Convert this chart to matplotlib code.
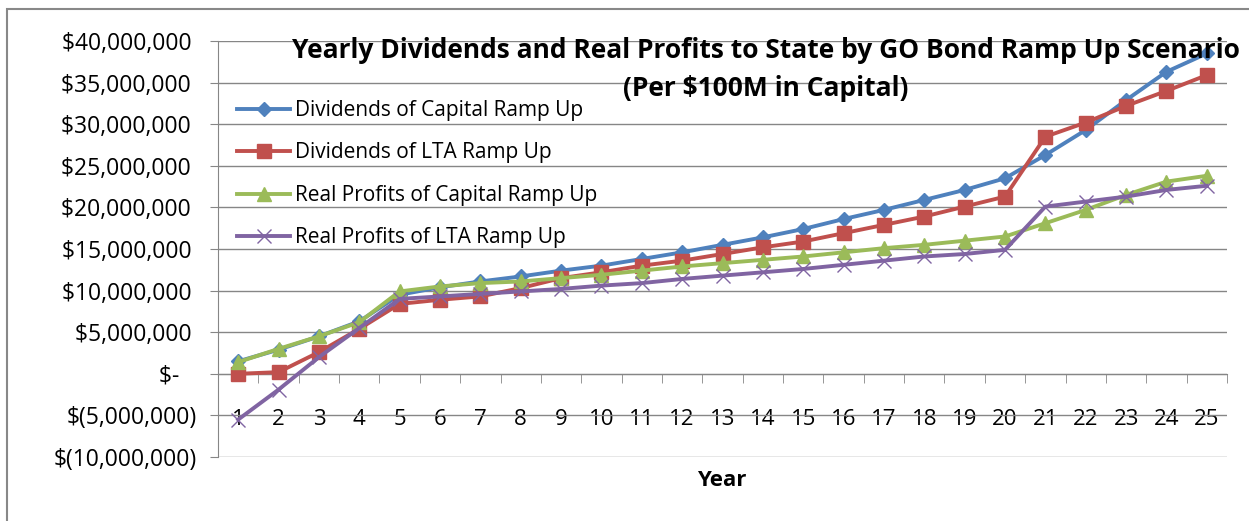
import numpy as np
import matplotlib.pyplot as plt
from matplotlib.ticker import FuncFormatter
from matplotlib.patches import Rectangle

plt.rcParams['font.family'] = ['Open Sans', 'DejaVu Sans']

years = np.arange(1, 26)

# values in dollars
div_capital = [1.5e6, 2.9e6, 4.5e6, 6.3e6, 9.5e6, 10.4e6, 11.1e6, 11.7e6, 12.4e6, 13.0e6,
               13.8e6, 14.6e6, 15.5e6, 16.4e6, 17.4e6, 18.6e6, 19.7e6, 20.9e6, 22.1e6, 23.5e6,
               26.3e6, 29.3e6, 32.9e6, 36.3e6, 38.5e6]
div_lta = [0.0, 0.2e6, 2.6e6, 5.4e6, 8.4e6, 8.9e6, 9.3e6, 10.3e6, 11.5e6, 12.2e6,
           13.0e6, 13.6e6, 14.4e6, 15.2e6, 15.9e6, 16.9e6, 17.9e6, 18.9e6, 20.1e6, 21.3e6,
           28.5e6, 30.2e6, 32.2e6, 34.0e6, 35.9e6]
rp_capital = [1.4e6, 3.0e6, 4.5e6, 6.2e6, 9.9e6, 10.5e6, 10.9e6, 11.1e6, 11.5e6, 11.9e6,
              12.4e6, 12.9e6, 13.3e6, 13.7e6, 14.1e6, 14.6e6, 15.1e6, 15.5e6, 16.0e6, 16.5e6,
              18.1e6, 19.7e6, 21.5e6, 23.1e6, 23.8e6]
rp_lta = [-5.5e6, -1.9e6, 2.0e6, 5.5e6, 9.0e6, 9.3e6, 9.6e6, 9.9e6, 10.2e6, 10.6e6,
          10.9e6, 11.4e6, 11.8e6, 12.2e6, 12.6e6, 13.1e6, 13.6e6, 14.1e6, 14.4e6, 14.9e6,
          20.1e6, 20.7e6, 21.3e6, 22.1e6, 22.6e6]

labels = ['Dividends of Capital Ramp Up', 'Dividends of LTA Ramp Up',
          'Real Profits of Capital Ramp Up', 'Real Profits of LTA Ramp Up']
title_lines = ['Yearly Dividends and Real Profits to State by GO Bond Ramp Up Scenario',
               '(Per $100M in Capital)']


def money(v, pos):
    if abs(v) < 1:
        return '$-   '
    if v < 0:
        return '$({:,.0f})'.format(-v)
    return '${:,.0f} '.format(v)


fig = plt.figure(figsize=(12.49, 5.21), dpi=100)
fig.patches.append(Rectangle((7 / 1249, -0.1), 1.2, 1 - 9 / 521 + 0.1,
                             transform=fig.transFigure, fill=False,
                             edgecolor='#888888', linewidth=1.5))
ax = fig.add_axes([218 / 1249, 1 - 457 / 521, 1009 / 1249, 416 / 521])

lw = 2.8
ax.plot(years, div_capital, color='#4F81BD', lw=lw, marker='D', ms=7, label=labels[0], zorder=3)
ax.plot(years, div_lta, color='#C0504D', lw=lw, marker='s', ms=10, label=labels[1], zorder=3)
ax.plot(years, rp_capital, color='#9BBB59', lw=lw, marker='^', ms=10, label=labels[2], zorder=3)
ax.plot(years, rp_lta, color='#8064A2', lw=lw, marker='x', ms=10, mew=1,
        label=labels[3], zorder=3)

ax.set_xlim(0.5, 25.5)
ax.set_ylim(-10e6, 40e6)
ax.set_yticks(np.arange(-10e6, 40e6 + 1, 5e6))
ax.yaxis.set_major_formatter(FuncFormatter(money))
ax.grid(axis='y', color='#868686', lw=1)
ax.set_axisbelow(True)

for s in ['top', 'right']:
    ax.spines[s].set_visible(False)
ax.spines['left'].set_color('#868686')
ax.spines['bottom'].set_color('#868686')
ax.spines['bottom'].set_position(('data', 0))

ax.set_xticks(years)
ax.set_xticks(np.arange(0.5, 25.6, 1), minor=True)
ax.tick_params(axis='x', which='major', length=0, pad=25, labelsize=16)
ax.tick_params(axis='x', which='minor', length=6.5, color='#868686', direction='out')
ax.tick_params(axis='y', length=6, color='#868686', labelsize=16.5, pad=9)

fig.text(722 / 1249, 1 - 481 / 521, 'Year', ha='center', va='center',
         fontsize=16, fontweight='bold')
# two title lines as separate texts so the first line's box stays clear of the legend
fig.text(766 / 1249, 1 - 51 / 521, title_lines[0], ha='center', va='center',
         fontsize=19, fontweight='bold')
fig.text(766 / 1249, 1 - 88 / 521, title_lines[1], ha='center', va='center',
         fontsize=19, fontweight='bold')

fig.legend(loc='upper left', bbox_to_anchor=(237 / 1249, 1 - 100 / 521), frameon=False,
           fontsize=15, handlelength=2.55, handletextpad=0.25, labelspacing=1.03,
           borderpad=0, borderaxespad=0)

fig.savefig('out.png', dpi=100)
